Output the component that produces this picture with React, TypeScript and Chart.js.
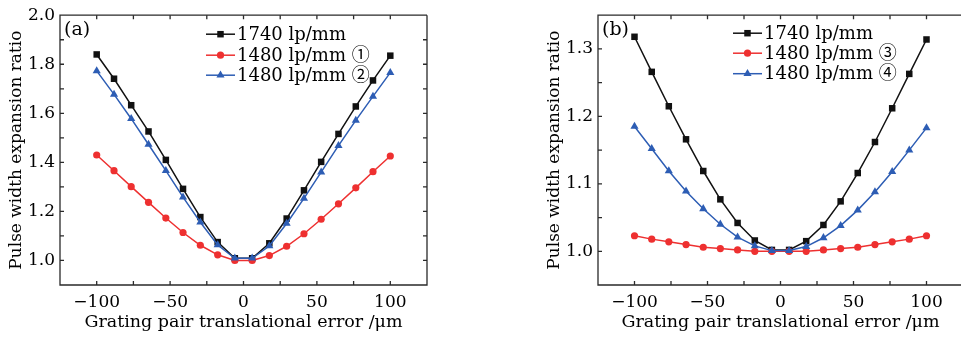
import React, { useEffect, useRef } from 'react';
import { Chart, registerables } from 'chart.js';

Chart.register(...registerables);

const FONT = "'DejaVu Serif', 'Noto Sans CJK SC', serif";

// x positions (µm)
const xValues = [-100, -88.2, -76.5, -64.7, -52.9, -41.2, -29.4, -17.6, -5.9, 5.9, 17.6, 29.4, 41.2, 52.9, 64.7, 76.5, 88.2, 100];

// panel (a)
const a1740 = [1.840, 1.741, 1.633, 1.526, 1.410, 1.292, 1.177, 1.075, 1.009, 1.009, 1.070, 1.171, 1.286, 1.402, 1.516, 1.628, 1.734, 1.835];
const a1480_1 = [1.430, 1.366, 1.301, 1.237, 1.173, 1.114, 1.062, 1.023, 1.000, 1.000, 1.020, 1.058, 1.109, 1.168, 1.231, 1.296, 1.362, 1.426];
const a1480_2 = [1.773, 1.677, 1.578, 1.473, 1.366, 1.258, 1.156, 1.063, 1.009, 1.009, 1.059, 1.151, 1.253, 1.360, 1.468, 1.571, 1.669, 1.766];

// panel (b)
const b1740 = [1.318, 1.266, 1.215, 1.166, 1.119, 1.077, 1.042, 1.016, 1.002, 1.002, 1.015, 1.039, 1.074, 1.116, 1.162, 1.212, 1.263, 1.314];
const b1480_3 = [1.023, 1.018, 1.014, 1.010, 1.006, 1.004, 1.002, 1.000, 1.000, 1.000, 1.000, 1.002, 1.004, 1.006, 1.010, 1.014, 1.018, 1.023];
const b1480_4 = [1.185, 1.152, 1.119, 1.089, 1.063, 1.040, 1.021, 1.008, 1.001, 1.001, 1.007, 1.020, 1.038, 1.061, 1.088, 1.118, 1.150, 1.183];

const labelsA = ['1740 lp/mm', '1480 lp/mm \u2460', '1480 lp/mm \u2461'];
const labelsB = ['1740 lp/mm', '1480 lp/mm \u2462', '1480 lp/mm \u2463'];

const xTitle = 'Grating pair translational error /\u03bcm';
const yTitle = 'Pulse width expansion ratio';

const BLACK = '#111111';
const RED = '#ee3030';
const BLUE = '#2d5db4';

type Marker = 'rect' | 'circle' | 'triangle';
interface SeriesDef { label: string; values: number[]; color: string; marker: Marker; radius: number; order: number }

function drawMarker(ctx: CanvasRenderingContext2D, m: Marker, x: number, y: number, r: number, color: string) {
  ctx.fillStyle = color;
  ctx.beginPath();
  if (m === 'rect') {
    const s = r * Math.SQRT1_2;
    ctx.rect(x - s, y - s, 2 * s, 2 * s);
  } else if (m === 'circle') {
    ctx.arc(x, y, r, 0, Math.PI * 2);
  } else {
    let rad = 0;
    ctx.moveTo(x + Math.sin(rad) * r, y - Math.cos(rad) * r);
    rad += (2 * Math.PI) / 3;
    ctx.lineTo(x + Math.sin(rad) * r, y - Math.cos(rad) * r);
    rad += (2 * Math.PI) / 3;
    ctx.lineTo(x + Math.sin(rad) * r, y - Math.cos(rad) * r);
    ctx.closePath();
  }
  ctx.fill();
}

const framePlugin = {
  id: 'frame',
  afterDatasetsDraw(chart: any, _args: any, opts: any) {
    const { ctx, chartArea, scales } = chart;
    const { left, right, top, bottom } = chartArea;
    ctx.save();
    ctx.strokeStyle = '#2a2a2a';
    ctx.lineWidth = 1.3;
    ctx.beginPath();
    ctx.moveTo(right, top);
    ctx.lineTo(left, top);
    ctx.lineTo(left, bottom);
    ctx.lineTo(right, bottom);
    if (!opts.hideRight) ctx.lineTo(right, top);
    ctx.stroke();
    const tl = 4;
    ctx.beginPath();
    scales.x.ticks.forEach((t: any) => {
      const px = scales.x.getPixelForValue(t.value);
      if (px <= left + 1 || px >= right - 1) return;
      ctx.moveTo(px, bottom);
      ctx.lineTo(px, bottom - tl);
      ctx.moveTo(px, top);
      ctx.lineTo(px, top + tl);
    });
    scales.y.ticks.forEach((t: any) => {
      const py = scales.y.getPixelForValue(t.value);
      if (py <= top + 1 || py >= bottom - 1) return;
      ctx.moveTo(left, py);
      ctx.lineTo(left + tl, py);
      if (!opts.hideRight) {
        ctx.moveTo(right, py);
        ctx.lineTo(right - tl, py);
      }
    });
    ctx.stroke();

    // panel label
    ctx.fillStyle = '#000';
    ctx.font = `19px ${FONT}`;
    ctx.textBaseline = 'middle';
    ctx.textAlign = 'left';
    ctx.fillText(opts.panel, left + opts.panelDx, top + 15);

    // legend
    const series: SeriesDef[] = opts.series;
    const segL = left + opts.legendDx;
    const segR = segL + 29;
    ctx.font = `18px ${FONT}`;
    series.forEach((s, i) => {
      const y = top + opts.rows[i];
      ctx.strokeStyle = s.color;
      ctx.lineWidth = 1.5;
      ctx.beginPath();
      ctx.moveTo(segL, y);
      ctx.lineTo(segR, y);
      ctx.stroke();
      drawMarker(ctx, s.marker, (segL + segR) / 2, y, s.radius, s.color);
      ctx.fillStyle = '#000';
      ctx.fillText(s.label, segR + 2, y + 1);
    });
    ctx.restore();
  },
};

function buildConfig(series: SeriesDef[], yMin: number, yMax: number, yStep: number, yLabelEvery: number, pad: any, plug: any) {
  return {
    type: 'line' as const,
    data: {
      datasets: series.map((s) => ({
        label: s.label,
        data: xValues.map((x, i) => ({ x, y: s.values[i] })),
        borderColor: s.color,
        backgroundColor: s.color,
        pointBackgroundColor: s.color,
        pointBorderColor: s.color,
        pointBorderWidth: 0,
        borderWidth: 1.5,
        pointStyle: s.marker,
        pointRadius: s.radius,
        tension: 0,
        order: s.order,
        clip: false as any,
      })),
    },
    options: {
      responsive: false,
      maintainAspectRatio: false,
      animation: false as const,
      devicePixelRatio: 1,
      layout: { padding: pad },
      plugins: {
        legend: { display: false },
        tooltip: { enabled: false },
        frame: plug,
      },
      scales: {
        x: {
          type: 'linear' as const,
          min: -125,
          max: 125,
          grid: { display: false, drawTicks: false },
          border: { display: false },
          afterFit: (s: any) => { s.height = 55; },
          ticks: {
            stepSize: 25,
            autoSkip: false,
            maxRotation: 0,
            padding: 7,
            color: '#000',
            font: { family: FONT, size: 17 },
            callback: (v: any) => {
              const n = Math.round(Number(v));
              if (n % 50 !== 0) return '';
              return n < 0 ? '\u2212' + Math.abs(n) : String(n);
            },
          },
          title: {
            display: true,
            text: xTitle,
            color: '#000',
            font: { family: FONT, size: 17.5 },
            padding: { top: 0, bottom: 7 },
          },
        },
        y: {
          type: 'linear' as const,
          min: yMin,
          max: yMax,
          grid: { display: false, drawTicks: false },
          border: { display: false },
          afterFit: (s: any) => { s.width = 60; },
          ticks: {
            stepSize: yStep,
            autoSkip: false,
            padding: 5,
            color: '#000',
            font: { family: FONT, size: 17 },
            callback: (v: any) => {
              const r = Math.round(Number(v) / yStep);
              if (r % yLabelEvery !== 0) return '';
              return (r * yStep).toFixed(1);
            },
          },
          title: {
            display: true,
            text: yTitle,
            color: '#000',
            font: { family: FONT, size: 17 },
            padding: { top: 6, bottom: 0 },
          },
        },
      },
    },
    plugins: [framePlugin],
  };
}

const seriesA: SeriesDef[] = [
  { label: labelsA[0], values: a1740, color: BLACK, marker: 'rect', radius: 4.6, order: 2 },
  { label: labelsA[1], values: a1480_1, color: RED, marker: 'circle', radius: 3.6, order: 1 },
  { label: labelsA[2], values: a1480_2, color: BLUE, marker: 'triangle', radius: 4.7, order: 0 },
];
const seriesB: SeriesDef[] = [
  { label: labelsB[0], values: b1740, color: BLACK, marker: 'rect', radius: 4.6, order: 2 },
  { label: labelsB[1], values: b1480_3, color: RED, marker: 'circle', radius: 3.6, order: 1 },
  { label: labelsB[2], values: b1480_4, color: BLUE, marker: 'triangle', radius: 4.7, order: 0 },
];

export default function App() {
  const refA = useRef<HTMLCanvasElement | null>(null);
  const refB = useRef<HTMLCanvasElement | null>(null);

  useEffect(() => {
    const ca = new Chart(refA.current as HTMLCanvasElement, buildConfig(
      seriesA, 0.9, 2.0, 0.1, 2,
      { left: 0, top: 12, right: 53, bottom: 0 },
      { panel: '(a)', panelDx: 4, legendDx: 146, rows: [19, 40, 60], series: seriesA, hideRight: false },
    ) as any);
    const cb = new Chart(refB.current as HTMLCanvasElement, buildConfig(
      seriesB, 0.95, 1.35, 0.05, 2,
      { left: 58, top: 12, right: 1.5, bottom: 0 },
      { panel: '(b)', panelDx: 4, legendDx: 135, rows: [18, 38, 58.5], series: seriesB, hideRight: true },
    ) as any);
    return () => { ca.destroy(); cb.destroy(); };
  }, []);

  return (
    <div style={{ position: 'absolute', left: 0, top: 0, width: 961, height: 340, overflow: 'hidden', background: '#fff' }}>
      <canvas ref={refA} width={480} height={340} style={{ position: 'absolute', left: 0, top: 0, width: 480, height: 340 }} />
      <canvas ref={refB} width={490} height={340} style={{ position: 'absolute', left: 480, top: 0, width: 490, height: 340 }} />
    </div>
  );
}
